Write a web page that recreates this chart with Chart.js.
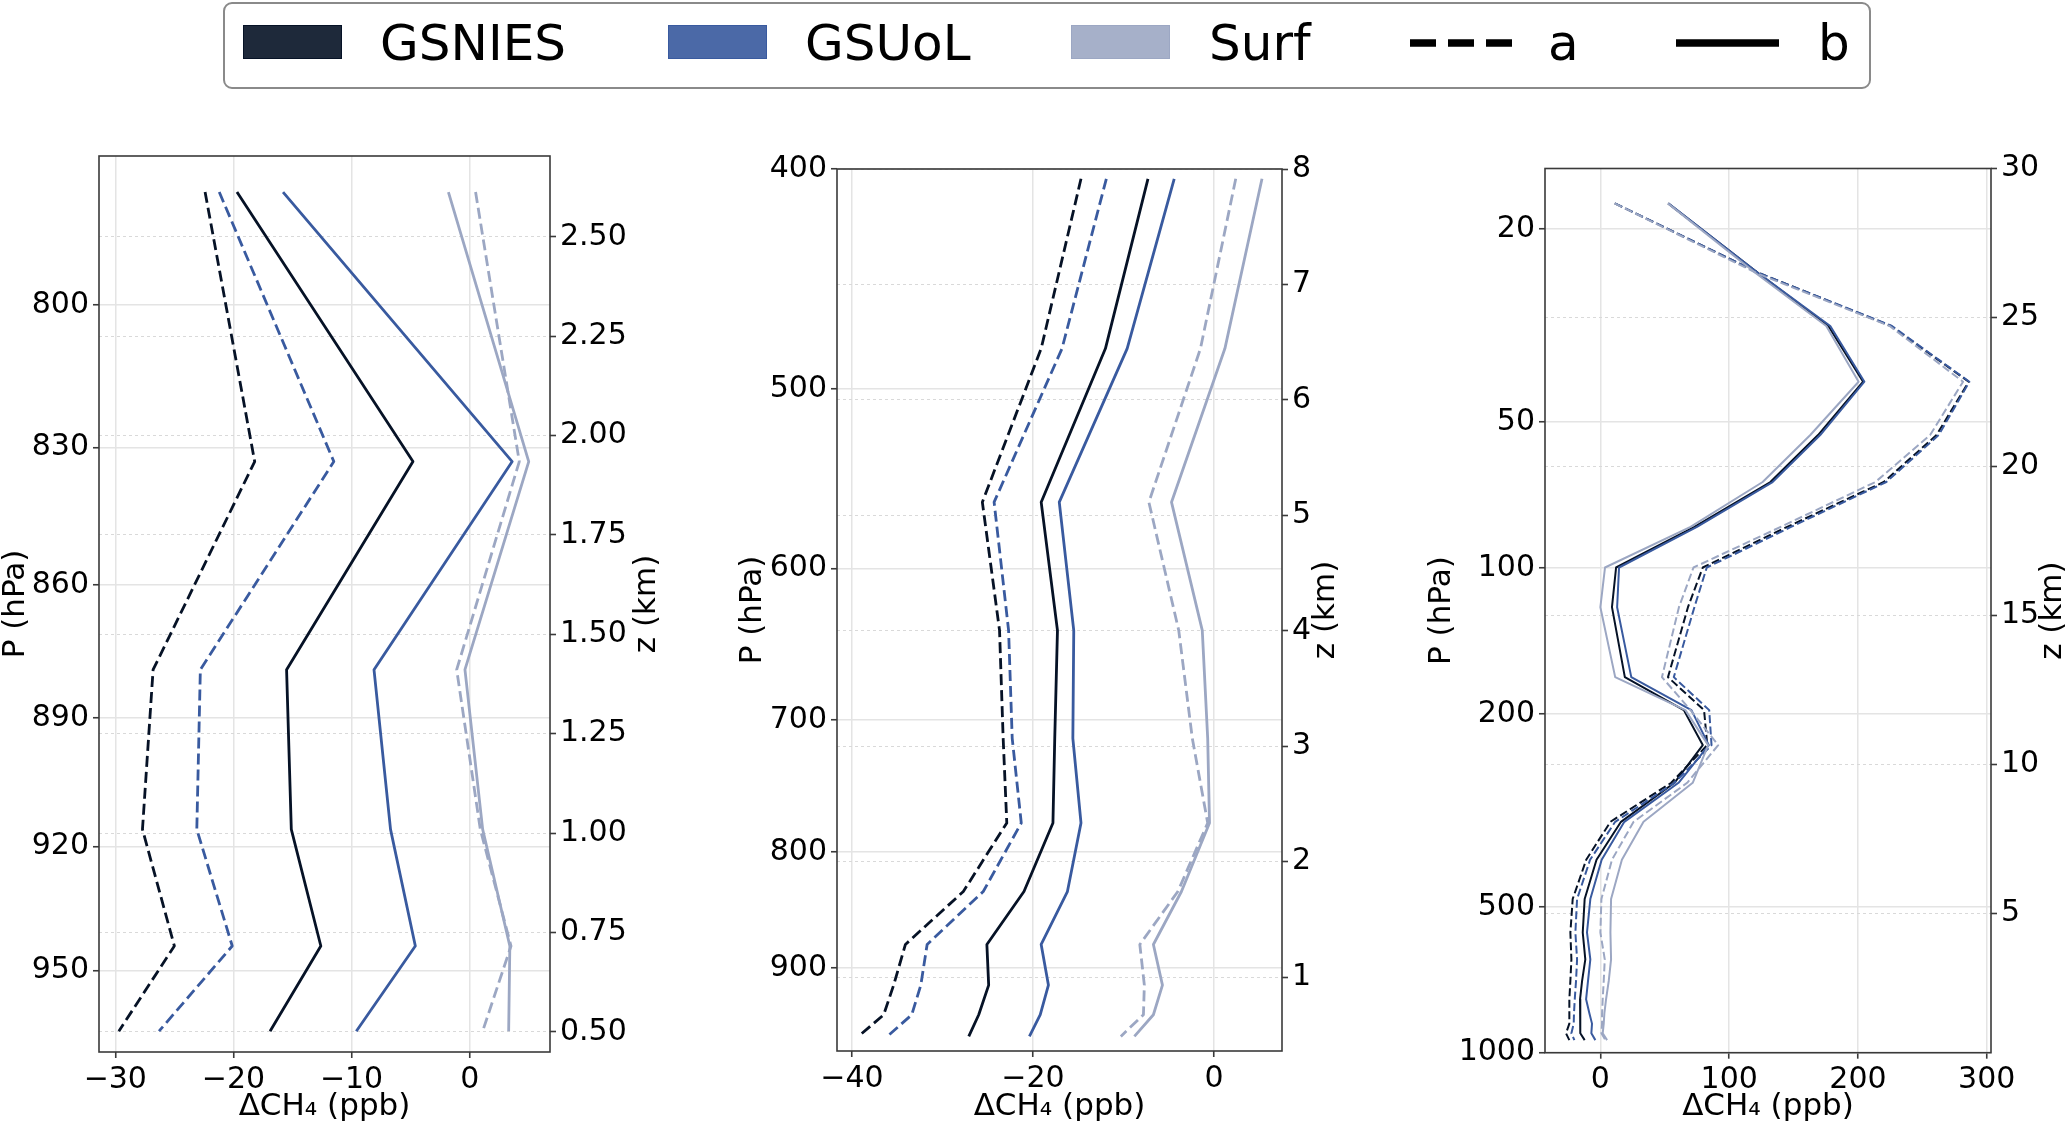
<!DOCTYPE html>
<html>
<head>
<meta charset="utf-8">
<script src="https://cdn.jsdelivr.net/npm/chart.js@4.4.1/dist/chart.umd.min.js"></script>
<style>
  html, body { margin: 0; padding: 0; background: #fff; }
  body { width: 2066px; height: 1122px; position: relative; overflow: hidden; font-family: 'DejaVu Sans', sans-serif; }
  canvas.panel { position: absolute; left: 0; top: 0; }
  #legend { position: absolute; left: 223px; top: 2px; width: 1648px; height: 87px; box-sizing: border-box;
            border: 2px solid #8a8a8a; border-radius: 9px; }
  .patch, .ltext, .handle { position: absolute; }
  .ltext { font-size: 50px; line-height: 50px; color: #000; white-space: nowrap; }
</style>
</head>
<body>
<div id="legend"></div>
<canvas class="panel" id="c1" width="2066" height="1122"></canvas>
<canvas class="panel" id="c2" width="2066" height="1122"></canvas>
<canvas class="panel" id="c3" width="2066" height="1122"></canvas>
<script>
const seriesNames = ['GSNIES', 'GSUoL', 'Surf'];
const styleNames = ['a', 'b'];
const patchColors = ['#1e293a', '#4b69a7', '#a6b0c9'];
const lineColors = ['#061226', '#395a9f', '#9ca7c3'];

// panel 1: lowest levels (hPa)
const levels1 = [777, 833, 879, 916, 944, 965];
const nies1a = [-22.4, -18.2, -26.8, -27.7, -25.0, -29.7];
const uol1a  = [-21.2, -11.5, -22.8, -23.1, -20.1, -26.3];
const surf1a = [0.5, 4.2, -1.1, 0.9, 3.5, 1.1];
const nies1b = [-19.7, -4.8, -15.5, -15.1, -12.6, -16.9];
const uol1b  = [-15.8, 3.6, -8.1, -6.7, -4.6, -9.6];
const surf1b = [-1.8, 5.0, -0.4, 1.1, 3.4, 3.3];

// panel 2: troposphere
const levels2 = [404, 480, 561, 639, 713, 777, 833, 879, 916, 944, 965];
const nies2a = [-14.7, -19.1, -25.6, -23.7, -23.3, -22.9, -27.7, -34.1, -35.4, -36.5, -39.3];
const uol2a  = [-11.9, -16.8, -24.3, -22.7, -22.3, -21.3, -25.5, -31.7, -32.4, -33.4, -36.1];
const surf2a = [2.4, -1.5, -7.2, -3.9, -2.4, -0.7, -4.0, -8.2, -7.7, -7.8, -10.3];
const nies2b = [-7.3, -12.0, -19.1, -17.3, -17.6, -17.8, -21.0, -25.1, -24.9, -26.0, -27.1];
const uol2b  = [-4.4, -9.6, -17.1, -15.5, -15.6, -14.7, -16.2, -19.1, -18.3, -19.2, -20.4];
const surf2b = [5.3, 1.2, -4.7, -1.3, -0.7, -0.5, -3.6, -6.7, -5.7, -6.7, -8.8];

// panel 3: full column
const levels3 = [17.7, 24.7, 31.7, 41.3, 53.2, 66.5, 82.3, 99.8, 120.5, 168, 196.5, 232, 277.5,
                 334, 400, 482, 565, 642, 711, 776, 830, 871, 912, 942];
const nies3a = [11.2, 124, 225.6, 286, 261, 220, 145, 79.5, 68, 52.5, 80.5, 83, 55,
                7.8, -11, -21.5, -23.3, -22.5, -23.3, -24.1, -24.1, -24.1, -26.7, -24.1];
const uol3a  = [11.4, 124, 226.4, 286.5, 262.7, 222, 148, 82.6, 73, 57, 84.5, 86.3, 57.5,
                11.5, -8, -18.1, -19.4, -18.1, -18.9, -19.9, -20.5, -20.7, -22.5, -20.2];
const surf3a = [11.0, 122, 224.6, 281.6, 256, 213.5, 140, 72.3, 61, 47.8, 70, 91.5, 67.4,
                25.8, 9, 0.8, 0, 3.4, 2.6, 1.8, 1.3, 1.3, 0.8, 3.9];
const nies3b = [52.6, 123, 177, 204, 169, 132, 73, 12.2, 9, 19, 64.8, 79.5, 57.5,
                16, -3, -12.2, -13.7, -11.7, -14.2, -15.8, -15.8, -15.5, -15.5, -12.2];
const uol3b  = [52.8, 123, 178.5, 205, 170.7, 133.7, 75, 14.5, 13, 24, 70.7, 84.2, 60.7,
                18.6, 1, -7.8, -10.4, -7.8, -9.6, -11.1, -8.5, -6.5, -7.0, -3.9];
const surf3b = [52.4, 121, 175.4, 200.5, 163, 126, 70, 3.6, 0, 11.5, 66, 83.7, 71.7,
                33.5, 16.7, 8.3, 7.8, 8.3, 6.5, 4.4, 3.1, 2.6, 1.8, 5.2];

const xTicks1 = [-30, -20, -10, 0];
const pTicks1 = [800, 830, 860, 890, 920, 950];
const zTicks1 = [0.5, 0.75, 1, 1.25, 1.5, 1.75, 2, 2.25, 2.5];
const xTicks2 = [-40, -20, 0];
const pTicks2 = [400, 500, 600, 700, 800, 900];
const zTicks2 = [1, 2, 3, 4, 5, 6, 7, 8];
const xTicks3 = [0, 100, 200, 300];
const pTicks3 = [20, 50, 100, 200, 500, 1000];
const zTicks3 = [5, 10, 15, 20, 25, 30];

// ---- legend (html) ----
const legendPatchX = [243, 668, 1071];
const legendTextX = [380, 805, 1209];
const legendLineX = [1410, 1676];
const legendLineTextX = [1548, 1818];
let html = '';
seriesNames.forEach((name, i) => {
    html += `<div class="patch" style="left:${legendPatchX[i]}px;top:25px;width:99px;height:34px;` +
            `background:${patchColors[i]};box-sizing:border-box;border:1.5px solid ${lineColors[i]}"></div>`;
    html += `<span class="ltext" style="left:${legendTextX[i]}px;top:18px">${name}</span>`;
});
styleNames.forEach((name, i) => {
    const dash = name === 'a' ? 'stroke-dasharray="26 12"' : '';
    html += `<svg class="handle" width="104" height="16" style="left:${legendLineX[i]}px;top:35px">` +
            `<line x1="0" y1="8" x2="103" y2="8" stroke="#000" stroke-width="7.5" ${dash}/></svg>`;
    html += `<span class="ltext" style="left:${legendLineTextX[i]}px;top:18px">${name}</span>`;
});
document.body.insertAdjacentHTML('beforeend', html);

// ---- charts ----
Chart.defaults.font.family = "'DejaVu Sans', sans-serif";
Chart.defaults.font.size = 30;
Chart.defaults.color = '#000';

const minus = v => (v < 0 ? '\u2212' + Math.abs(v) : String(v));

const frame = {
    id: 'frame',
    afterDraw(chart, args, opts) {
        const {ctx, chartArea: a} = chart;
        ctx.save();
        ctx.strokeStyle = '#3a3a3a';
        ctx.lineWidth = 1.6;
        ctx.strokeRect(a.left, a.top, a.right - a.left, a.bottom - a.top);
        ctx.font = "31px 'DejaVu Sans'";
        ctx.fillStyle = '#000';
        ctx.textAlign = 'center';
        ctx.textBaseline = 'middle';
        ctx.translate(opts.zTitleX, (a.top + a.bottom) / 2);
        ctx.rotate(-Math.PI / 2);
        ctx.fillText('z (km)', 0, 0);
        ctx.restore();
    }
};

function profiles(levels, sets, width, dash) {
    const out = [];
    sets.forEach((pair, i) => {
        pair.forEach((values, j) => {
            out.push({
                label: seriesNames[i] + ' ' + styleNames[j],
                data: levels.map((p, k) => ({x: values[k], y: p})),
                borderColor: lineColors[i],
                borderWidth: width,
                borderDash: j === 0 ? dash : [],
                borderJoinStyle: 'round',
                pointRadius: 0,
                tension: 0,
                fill: false,
                yAxisID: 'p'
            });
        });
    });
    // first dataset is drawn on top in chart.js, so put GSNIES last
    return out.reverse();
}

function panel(id, c) {
    const gridSolid = {color: '#e4e4e4', lineWidth: 1.5, tickColor: '#3a3a3a', tickWidth: 1.6, tickLength: 6};
    const axisTitle = text => ({display: true, text: text, font: {size: 31, lineHeight: 1}, padding: 0});
    new Chart(document.getElementById(id), {
        type: 'line',
        data: {datasets: c.datasets},
        options: {
            responsive: false,
            animation: false,
            events: [],
            layout: {padding: {left: c.box.left - c.leftW, top: c.box.top, right: 0, bottom: 0}},
            plugins: {legend: {display: false}, tooltip: {enabled: false}, frame: {zTitleX: c.zTitleX}},
            scales: {
                x: {
                    type: 'linear', position: 'bottom', min: c.x[0], max: c.x[1],
                    afterBuildTicks: s => { s.ticks = c.xTicks.map(v => ({value: v})); },
                    afterFit: s => { s.height = 1122 - c.box.bottom; },
                    ticks: {callback: minus, padding: 4, autoSkip: false, maxRotation: 0},
                    grid: gridSolid,
                    border: {display: false},
                    title: axisTitle('ΔCH₄ (ppb)')
                },
                p: {
                    type: 'logarithmic', axis: 'y', position: 'left', reverse: true, min: c.p[0], max: c.p[1],
                    afterBuildTicks: s => { s.ticks = c.pTicks.map(v => ({value: v})); },
                    afterFit: s => { s.width = c.leftW; },
                    ticks: {callback: v => String(v), padding: 4, autoSkip: false},
                    grid: gridSolid,
                    border: {display: false},
                    title: axisTitle('P (hPa)')
                },
                z: {
                    type: 'linear', axis: 'y', position: 'right', min: c.z[0], max: c.z[1],
                    afterBuildTicks: s => { s.ticks = c.zTicks.map(v => ({value: v})); },
                    afterFit: s => { s.width = 2066 - c.box.right; },
                    ticks: {callback: c.zFormat, padding: 4, autoSkip: false},
                    grid: {color: '#d9d9d9', lineWidth: 1, tickColor: '#3a3a3a', tickWidth: 1.6, tickLength: 6},
                    border: {display: false, dash: [3, 3]}
                }
            }
        },
        plugins: [frame]
    });
}

panel('c1', {
    datasets: profiles(levels1, [[nies1a, nies1b], [uol1a, uol1b], [surf1a, surf1b]], 2.8, [11, 5]),
    box: {left: 99, right: 550, top: 156, bottom: 1052}, leftW: 99,
    x: [-31.38, 6.8], p: [769.8, 970.2], z: [0.449, 2.7035],
    xTicks: xTicks1, pTicks: pTicks1, zTicks: zTicks1, zFormat: v => v.toFixed(2), zTitleX: 647
});
panel('c2', {
    datasets: profiles(levels2, [[nies2a, nies2b], [uol2a, uol2b], [surf2a, surf2b]], 2.8, [11, 5]),
    box: {left: 837, right: 1282, top: 169, bottom: 1051}, leftW: 99.5,
    x: [-41.66, 7.51], p: [400, 979.4], z: [0.36, 8],
    xTicks: xTicks2, pTicks: pTicks2, zTicks: zTicks2, zFormat: v => String(v), zTitleX: 1326
});
panel('c3', {
    datasets: profiles(levels3, [[nies3a, nies3b], [uol3a, uol3b], [surf3a, surf3b]], 2, [8, 3.5]),
    box: {left: 1545, right: 1991, top: 168.5, bottom: 1052.7}, leftW: 118.5,
    x: [-43, 303.3], p: [15, 1000], z: [0.32, 30],
    xTicks: xTicks3, pTicks: pTicks3, zTicks: zTicks3, zFormat: v => String(v), zTitleX: 2053
});
</script>
</body>
</html>
